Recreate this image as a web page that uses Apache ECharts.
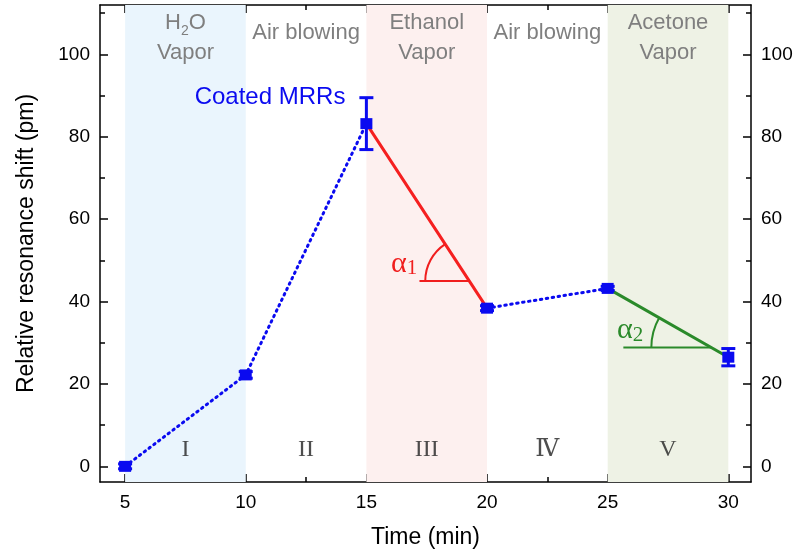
<!DOCTYPE html>
<html>
<head>
<meta charset="utf-8">
<script src="https://cdn.jsdelivr.net/npm/echarts@6/dist/echarts.min.js"></script>
<style>
  html, body { margin: 0; padding: 0; background: #fff; }
  #chart { width: 796px; height: 552px; }
</style>
</head>
<body>
<div id="chart"></div>
<script>
// measured points (time in min, shift in pm)
const times = [5, 10, 15, 20, 25, 30];
const shift = [0, 22.2, 83.2, 38.4, 43.2, 26.5];
const shiftErr = [0.6, 0.8, 6.3, 0.6, 0.5, 2.1];

// exposure stages
const stageBounds = [5, 10, 15, 20, 25, 30];
const stageNames = ['{t|H}{sub|2}{t|O}\n{t|Vapor}', '{t|Air blowing}', '{t|Ethanol}\n{t|Vapor}', '{t|Air blowing}', '{t|Acetone}\n{t|Vapor}'];
const stageNumerals = ['I', 'II', 'III', 'Ⅳ', 'V'];
const stageColors = ['#eaf5fd', 'rgba(255,255,255,0)', '#fdf0ef', 'rgba(255,255,255,0)', '#eef2e5'];

// slope angle marks: horizontal reference line start, level, segment index
const angleStart = [17.2, 25.65];
const angleLevel = [45, 28.85];
const angleSegment = [2, 4];
const angleNames = ['{a|α}{s|1}', '{a|α}{s|2}'];
const angleColors = ['#f01e1e', '#2a8a2a'];

const xTicks = [5, 10, 15, 20, 25, 30];
const xMinorTicks = [7.5, 12.5, 17.5, 22.5, 27.5];
const yTicks = [0, 20, 40, 60, 80, 100];
const yMinorTicks = [10, 30, 50, 70, 90, 110];

const X_MIN = 3.96, X_MAX = 30.94, Y_MIN = -3.8, Y_MAX = 112;
const BLUE = '#0a0af0';

const chart = echarts.init(document.getElementById('chart'));

const pts = times.map((t, i) => [t, shift[i]]);

function xAxisDef(pos, ticks, len, showLabel, showLine) {
    return {
        type: 'value', position: pos, min: X_MIN, max: X_MAX, gridIndex: 0,
        splitLine: { show: false },
        axisLine: { show: showLine, onZero: false, lineStyle: { color: '#000', width: 1.5 } },
        axisTick: { show: true, inside: true, length: len, customValues: ticks, lineStyle: { color: '#000', width: 1.5 } },
        axisLabel: { show: showLabel, customValues: ticks, color: '#000', fontSize: 19, margin: 11, fontFamily: 'Liberation Sans' }
    };
}
function yAxisDef(pos, ticks, len, showLabel, showLine) {
    return {
        type: 'value', position: pos, min: Y_MIN, max: Y_MAX, gridIndex: 0,
        splitLine: { show: false },
        axisLine: { show: showLine, onZero: false, lineStyle: { color: '#000', width: 1.5 } },
        axisTick: { show: true, inside: true, length: len, customValues: ticks, lineStyle: { color: '#000', width: 1.5 } },
        axisLabel: { show: showLabel, customValues: ticks, color: '#000', fontSize: 19, margin: 10, fontFamily: 'Liberation Sans' }
    };
}

const xAxes = [
    xAxisDef('bottom', xTicks, 8, true, true),
    xAxisDef('bottom', xMinorTicks, 5, false, false),
    xAxisDef('top', xTicks, 8, false, true),
    xAxisDef('top', xMinorTicks, 5, false, false)
];
xAxes[0].name = 'Time (min)';
xAxes[0].nameLocation = 'middle';
xAxes[0].nameGap = 44;
xAxes[0].nameTextStyle = { fontSize: 23, color: '#000', fontFamily: 'Liberation Sans' };

const yAxes = [
    yAxisDef('left', yTicks, 8, true, true),
    yAxisDef('left', yMinorTicks, 5, false, false),
    yAxisDef('right', yTicks, 8, true, true),
    yAxisDef('right', yMinorTicks, 5, false, false)
];
yAxes[0].name = 'Relative resonance shift (pm)';
yAxes[0].nameLocation = 'middle';
yAxes[0].nameGap = 62;
yAxes[0].nameTextStyle = { fontSize: 23, color: '#000', fontFamily: 'Liberation Sans' };

// stage shading with titles
const areaData = stageNames.map((nm, i) => [{
    xAxis: stageBounds[i],
    itemStyle: { color: stageColors[i] },
    label: {
        formatter: nm,
        distance: nm.indexOf('\n') >= 0 ? 3 : 13
    }
}, { xAxis: stageBounds[i + 1] }]);

const numeralData = stageNumerals.map((n, i) => ({
    value: [(stageBounds[i] + stageBounds[i + 1]) / 2, 4],
    label: { formatter: n }
}));

function lineSeries(from, to, color, dotted) {
    return {
        type: 'line', data: pts.slice(from, to + 1), symbol: 'none', z: 3,
        lineStyle: { color: color, width: 3, type: dotted ? [1.5, 4.5] : 'solid', cap: 'round' },
        silent: true
    };
}

const option = {
    animation: false,
    grid: { left: 100, right: 45, top: 5, bottom: 70, outerBoundsMode: 'none', containLabel: false },
    xAxis: xAxes,
    yAxis: yAxes,
    series: [
        {
            type: 'line', data: [], silent: true,
            markArea: {
                silent: true,
                label: {
                    show: true, position: 'insideTop',
                    fontFamily: 'Liberation Sans',
                    rich: {
                        t: { fontSize: 22, color: '#7f7f7f', lineHeight: 30, fontFamily: 'Liberation Sans' },
                        sub: { fontSize: 14, color: '#7f7f7f', lineHeight: 12, verticalAlign: 'bottom', fontFamily: 'Liberation Sans' }
                    }
                },
                data: areaData
            }
        },
        {
            type: 'scatter', data: numeralData, symbolSize: 0, silent: true, z: 2,
            label: { show: true, position: 'inside', color: '#222', fontSize: 24, fontFamily: '"Liberation Serif", "DejaVu Serif", serif' }
        },
        lineSeries(0, 2, BLUE, true),
        lineSeries(3, 4, BLUE, true),
        lineSeries(2, 3, '#f52020', false),
        lineSeries(4, 5, '#2a8a2a', false),
        {
            // slope angle marks
            type: 'custom', z: 4, silent: true,
            data: angleStart.map((s, i) => [s, angleLevel[i]]),
            renderItem: function (params, api) {
                const i = params.dataIndex;
                const k = angleSegment[i];
                const y = angleLevel[i];
                const xi = times[k] + (shift[k] - y) / (shift[k] - shift[k + 1]) * (times[k + 1] - times[k]);
                const a = api.coord([angleStart[i], y]);
                const c = api.coord([xi, y]);
                const p = api.coord([times[k], shift[k]]);
                let ang = Math.atan2(p[1] - c[1], p[0] - c[0]);
                if (ang < 0) ang += Math.PI * 2;
                const r = i === 0 ? 44 : 60;
                const col = angleColors[i];
                return {
                    type: 'group',
                    children: [
                        { type: 'line', shape: { x1: a[0], y1: a[1], x2: c[0], y2: c[1] }, style: { stroke: col, lineWidth: 2 } },
                        { type: 'arc', shape: { cx: c[0], cy: c[1], r: r, startAngle: Math.PI, endAngle: ang, clockwise: true }, style: { stroke: col, lineWidth: 2, fill: null } },
                        {
                            type: 'text', x: c[0] - r - 8, y: c[1] - 17,
                            style: {
                                text: angleNames[i], align: 'right', verticalAlign: 'middle',
                                rich: {
                                    a: { fontSize: 30, fill: col, fontFamily: 'Liberation Serif', lineHeight: 30 },
                                    s: { fontSize: 21, fill: col, fontFamily: 'Liberation Serif', lineHeight: 16, verticalAlign: 'bottom' }
                                }
                            }
                        }
                    ]
                };
            }
        },
        {
            // error bars
            type: 'custom', z: 5, silent: true,
            data: times.map((t, i) => [t, shift[i], shiftErr[i]]),
            renderItem: function (params, api) {
                const x = api.value(0), y = api.value(1), e = api.value(2);
                const hi = api.coord([x, y + e]);
                const lo = api.coord([x, y - e]);
                const w = 7;
                const st = { stroke: BLUE, lineWidth: 3 };
                return {
                    type: 'group',
                    children: [
                        { type: 'line', shape: { x1: hi[0], y1: hi[1], x2: lo[0], y2: lo[1] }, style: st },
                        { type: 'line', shape: { x1: hi[0] - w, y1: hi[1], x2: hi[0] + w, y2: hi[1] }, style: st },
                        { type: 'line', shape: { x1: lo[0] - w, y1: lo[1], x2: lo[0] + w, y2: lo[1] }, style: st }
                    ]
                };
            }
        },
        {
            type: 'scatter', z: 6, silent: true,
            symbol: 'rect', symbolSize: [12, 11],
            itemStyle: { color: BLUE, opacity: 1 },
            data: pts.map((p, i) => i === 2 ? {
                value: p,
                label: {
                    show: true, position: 'left', distance: 15, offset: [0, -26],
                    formatter: 'Coated MRRs', color: BLUE, fontSize: 24, fontFamily: 'Liberation Sans'
                }
            } : p)
        }
    ]
};

chart.setOption(option);
</script>
</body>
</html>
